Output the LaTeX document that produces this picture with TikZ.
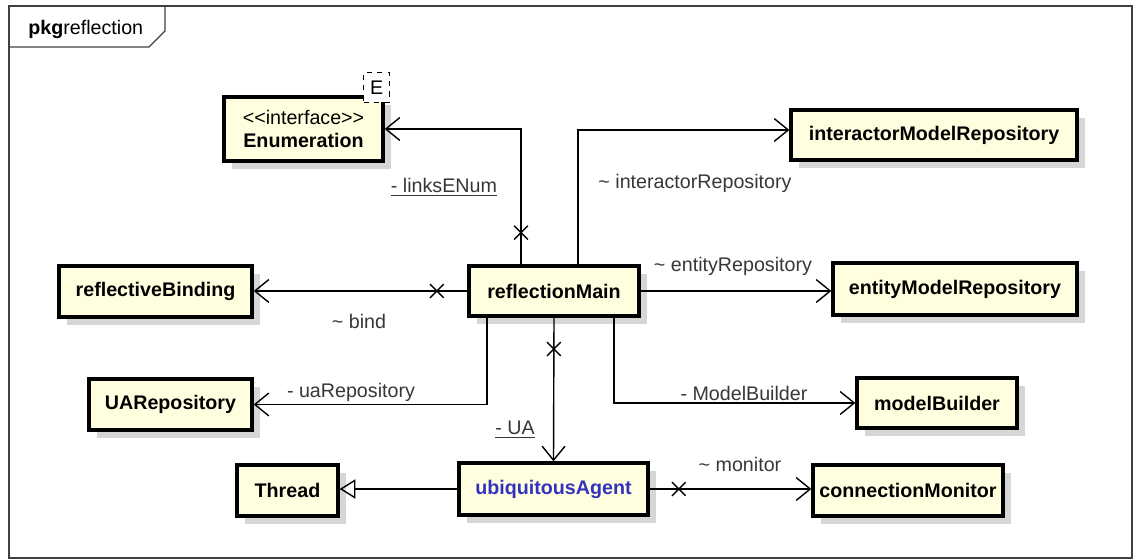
\documentclass[tikz,border=0pt]{standalone}
\usepackage{fontspec}
\setmainfont{Liberation Sans}[Ligatures=TeXOff]
\usepackage{tikz}
\usetikzlibrary{arrows.meta,positioning,shadows,shapes.misc}
\definecolor{umlfill}{RGB}{255,255,224}
\definecolor{umlshadow}{RGB}{214,214,214}
\definecolor{labelgray}{RGB}{55,55,55}
\definecolor{agentblue}{RGB}{50,50,190}

\begin{document}
\begin{tikzpicture}[x=0.02cm, y=-0.02cm,
    font=\fontsize{11.2}{13.6}\selectfont,
    cls/.style={draw, line width=1.9pt, fill=umlfill, inner sep=0pt, align=center,
      font=\fontsize{11.2}{13.6}\selectfont\bfseries,
      drop shadow={shadow xshift=0.16cm, shadow yshift=-0.16cm, fill=umlshadow, opacity=1}},
    assoc/.style={line width=0.8pt, -{Straight Barb[length=8pt,width=13pt]}},
    xmark/.style={cross out, draw, line width=0.8pt, minimum size=7pt, inner sep=0pt},
    lbl/.style={text=labelgray, inner sep=0pt}]
  \useasboundingbox (0,0) rectangle (1137,560);
  % Package frame
  \draw[line width=0.8pt, black!75] (9,6) rectangle (1132,558);
  \draw[line width=0.8pt, black!75] (9,47) -- (149,47) -- (165,31) -- (165,6);
  \node[anchor=west, inner sep=0pt] (pkg) at (28,29) {\textbf{pkg}reflection};
  % Classes
  \node[cls, minimum width=3.18cm, minimum height=1.28cm] (enum) at (303.5,129)
    {\mdseries <<interface>>\\Enumeration};
  \node[draw, dashed, fill=white, line width=0.8pt, minimum width=0.52cm, minimum height=0.6cm,
    inner sep=0pt] (enumtag) at ([xshift=-0.16cm, yshift=0.16cm]enum.north east) {E};
  \node[cls, minimum width=3.4cm, minimum height=1.0cm] (main) at (554,291) {reflectionMain};
  \node[cls, minimum width=5.72cm, minimum height=1.0cm] (inter) at (934,135) {interactorModelRepository};
  \node[cls, minimum width=4.88cm, minimum height=1.04cm] (entity) at (955,289) {entityModelRepository};
  \node[cls, minimum width=3.2cm, minimum height=1.0cm] (mbuilder) at (937,403) {modelBuilder};
  \node[cls, minimum width=3.8cm, minimum height=1.02cm] (monitor) at (908,490.5) {connectionMonitor};
  \node[cls, minimum width=3.78cm, minimum height=1.04cm, text=agentblue] (agent) at (553.5,489) {ubiquitousAgent};
  \node[cls, minimum width=2.02cm, minimum height=1.02cm] (thread) at (287.5,490.5) {Thread};
  \node[cls, minimum width=3.26cm, minimum height=1.02cm] (uarepo) at (170.5,404.5) {UARepository};
  \node[cls, minimum width=3.86cm, minimum height=1.02cm] (binding) at (155.5,291.5) {reflectiveBinding};
  % Associations
  \draw[assoc] ([xshift=-0.66cm]main.north) |- node[xmark, pos=0.117] (x1) {} (enum.east);
  \draw[assoc] ([xshift=0.48cm]main.north) |- ([yshift=0.1cm]inter.west);
  \draw[assoc] (main.east) -- (main.east -| entity.west);
  \draw[assoc] (main.west) -- node[xmark, pos=0.143] (x2) {} (main.west -| binding.east);
  \draw[assoc] ([xshift=-1.34cm]main.south) |- (uarepo.east);
  \draw[assoc] (main.south) -- node[xmark, pos=0.218] (x3) {} (agent.north);
  \draw[assoc] ([xshift=1.2cm]main.south) |- (mbuilder.west);
  \draw[assoc] (agent.east) -- node[xmark, pos=0.18] (x4) {} (agent.east -| monitor.west);
  % Generalization
  \draw[line width=0.8pt, -{Triangle[open, length=9pt, width=11pt]}] (agent.west) -- (agent.west -| thread.east);
  % Role labels
  \node[lbl] (l-links) at (444,187) {\underline{- linksENum}};
  \node[lbl] (l-inter) at (695,183) {\textasciitilde{} interactorRepository};
  \node[lbl] (l-entity) at (733,266) {\textasciitilde{} entityRepository};
  \node[lbl] (l-bind) at (359,321) {\textasciitilde{} bind};
  \node[lbl] (l-uarepo) at (351,392) {- uaRepository};
  \node[lbl] (l-ua) at (515,430) {\underline{- UA}};
  \node[lbl] (l-mbuilder) at (744,393) {- ModelBuilder};
  \node[lbl] (l-monitor) at (740,464) {\textasciitilde{} monitor};
\end{tikzpicture}
\end{document}
